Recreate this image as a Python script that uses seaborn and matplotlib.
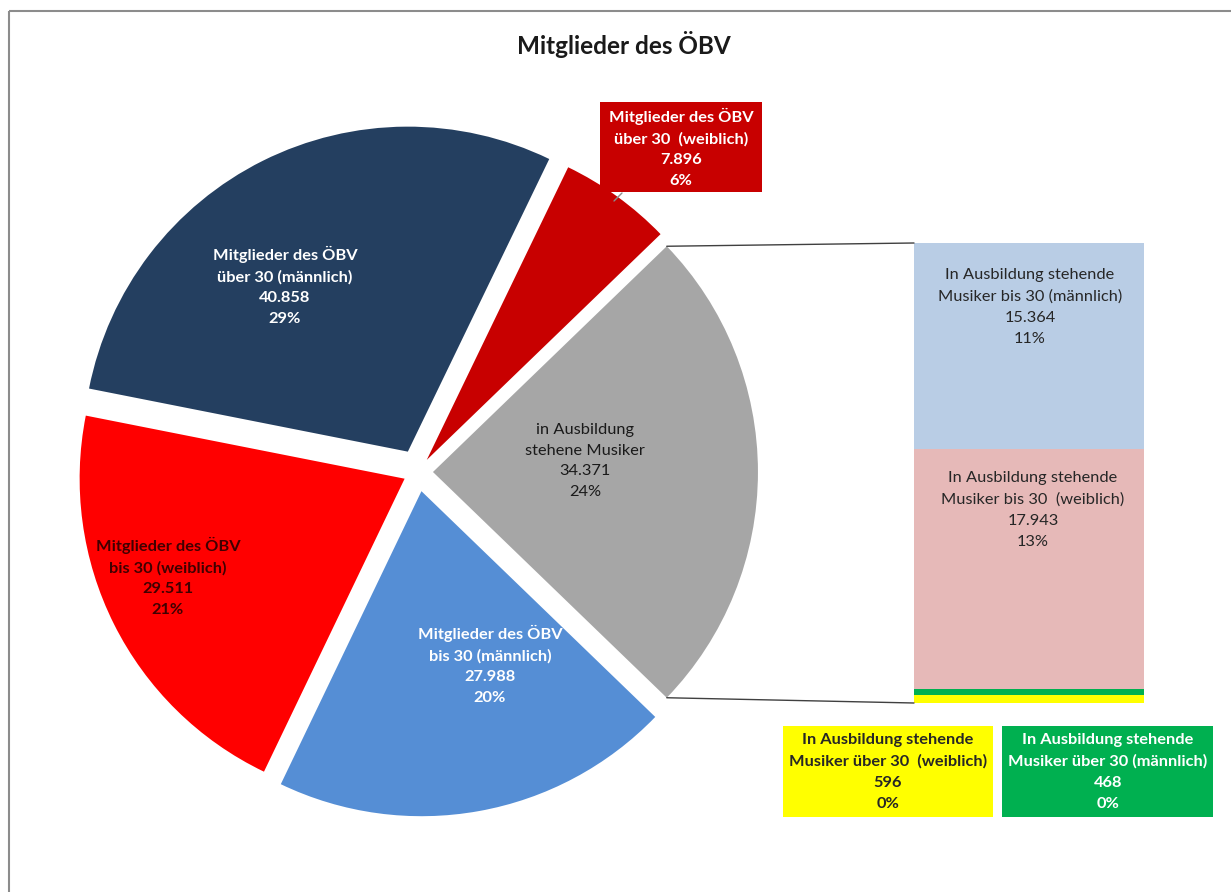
import matplotlib
matplotlib.use("Agg")
import numpy as np
import matplotlib.pyplot as plt
from matplotlib.patches import Rectangle, ConnectionPatch
import seaborn as sns

sns.set_theme(style="white")
plt.rcParams['font.family'] = ['Lato', 'DejaVu Sans']

# ---------------- data ----------------
title = "Mitglieder des ÖBV"

# main pie (Excel "bar of pie"): first slice = aggregated slice shown as bar
pie_labels = ["in Ausbildung\nstehene Musiker",
              "Mitglieder des ÖBV\nüber 30  (weiblich)",
              "Mitglieder des ÖBV\nüber 30 (männlich)",
              "Mitglieder des ÖBV\nbis 30 (weiblich)",
              "Mitglieder des ÖBV\nbis 30 (männlich)"]
pie_values = [34371, 7896, 40858, 29511, 27988]
pie_colors = ["#A6A6A6", "#C80000", "#243F60", "#FF0000", "#558ED5"]

# breakdown bar (top to bottom)
bar_labels = ["In Ausbildung stehende\nMusiker bis 30 (männlich)",
              "In Ausbildung stehende\nMusiker bis 30  (weiblich)",
              "In Ausbildung stehende\nMusiker über 30 (männlich)",
              "In Ausbildung stehende\nMusiker über 30  (weiblich)"]
bar_values = [15364, 17943, 468, 596]
bar_colors = ["#B9CDE5", "#E6B9B8", "#00B050", "#FFFF00"]

total = sum(pie_values)


def fmt(v):
    return f"{v:,}".replace(",", ".")


def lab(name, v):
    return f"{name}\n{fmt(v)}\n{round(100 * v / total):.0f}%"


# ---------------- layout ----------------
W, H = 1231, 892
fig = plt.figure(figsize=(W / 100, H / 100), dpi=100)
fig.patch.set_facecolor("white")


def fig_box(x0, y0, x1, y1):
    return [x0 / W, 1 - y1 / H, (x1 - x0) / W, (y1 - y0) / H]


R = 325
cx, cy = 418, 472
lim = 1.2
ax_pie = fig.add_axes(fig_box(cx - lim * R, cy - lim * R, cx + lim * R, cy + lim * R))
start = -180 * pie_values[0] / total
wedges, _ = ax_pie.pie(pie_values, colors=pie_colors, startangle=start,
                       counterclock=True, explode=[0.046, 0.046, 0.07, 0.046, 0.06],
                       radius=1, wedgeprops=dict(linewidth=0))
ax_pie.set_xlim(-lim, lim)
ax_pie.set_ylim(-lim, lim)
ax_pie.set_aspect('auto')
ax_pie.axis('off')

# stacked bar
ax_bar = fig.add_axes(fig_box(914, 243, 1144, 703))
bottom = 0
for v, c in zip(bar_values, bar_colors):
    ax_bar.bar([0], [v], bottom=bottom, width=1.0, color=c, linewidth=0)
    bottom += v
ax_bar.set_xlim(-0.5, 0.5)
ax_bar.set_ylim(sum(bar_values), 0)
ax_bar.axis('off')

# connector lines from grey slice to bar
w0 = wedges[0]
for ang, yb in [(w0.theta2, 0), (w0.theta1, sum(bar_values))]:
    px = w0.center[0] + w0.r * np.cos(np.radians(ang))
    py = w0.center[1] + w0.r * np.sin(np.radians(ang))
    con = ConnectionPatch(xyA=(px, py), coordsA=ax_pie.transData,
                          xyB=(-0.5, yb), coordsB=ax_bar.transData,
                          color="#404040", lw=1.0)
    fig.add_artist(con)

# overlay axes in pixel coordinates
ax = fig.add_axes([0, 0, 1, 1])
ax.set_xlim(0, W)
ax.set_ylim(H, 0)
ax.axis('off')
ax.patch.set_alpha(0)
ax.set_zorder(5)

# frame
ax.plot([9, 9], [H, 11], color="#8c8c8c", lw=1.5, solid_capstyle='butt')
ax.plot([9, W], [11, 11], color="#8c8c8c", lw=1.5, solid_capstyle='butt')

ax.text(624, 45, title, ha='center', va='center', fontsize=17.5,
        fontweight='bold', color="#1a1a1a")

fs = 11.8
ls = 1.62
# pie labels
ax.text(585, 461, lab(pie_labels[0], pie_values[0]), ha='center', va='center',
        fontsize=fs, color="#1a1a1a", linespacing=ls)
ax.add_patch(Rectangle((600, 102), 162, 90, facecolor=pie_colors[1], edgecolor='none'))
ax.plot([622, 614], [193, 201], color="#8c8c8c", lw=1)
ax.text(681, 148, lab(pie_labels[1], pie_values[1]), ha='center', va='center',
        fontsize=fs, color="white", fontweight='bold', linespacing=ls)
ax.text(285, 286, lab(pie_labels[2], pie_values[2]), ha='center', va='center',
        fontsize=fs, color="white", fontweight='bold', linespacing=ls)
ax.text(168, 577, lab(pie_labels[3], pie_values[3]), ha='center', va='center',
        fontsize=fs, color="#400000", fontweight='bold', linespacing=ls)
ax.text(490, 665, lab(pie_labels[4], pie_values[4]), ha='center', va='center',
        fontsize=fs, color="white", fontweight='bold', linespacing=ls)

# bar labels
ax.text(1030, 307, lab(bar_labels[0], bar_values[0]), ha='center', va='center',
        fontsize=fs, color="#262626", linespacing=ls)
ax.text(1033, 510, lab(bar_labels[1], bar_values[1]), ha='center', va='center',
        fontsize=fs, color="#262626", linespacing=ls)
ax.add_patch(Rectangle((1002, 726), 211, 91, facecolor=bar_colors[2], edgecolor='none'))
ax.text(1108, 772, lab(bar_labels[2], bar_values[2]), ha='center', va='center',
        fontsize=fs, color="white", fontweight='bold', linespacing=ls)
ax.add_patch(Rectangle((783, 726), 210, 91, facecolor=bar_colors[3], edgecolor='none'))
ax.text(888, 772, lab(bar_labels[3], bar_values[3]), ha='center', va='center',
        fontsize=fs, color="#262626", fontweight='bold', linespacing=ls)

fig.savefig("out.png", dpi=100, facecolor="white")
